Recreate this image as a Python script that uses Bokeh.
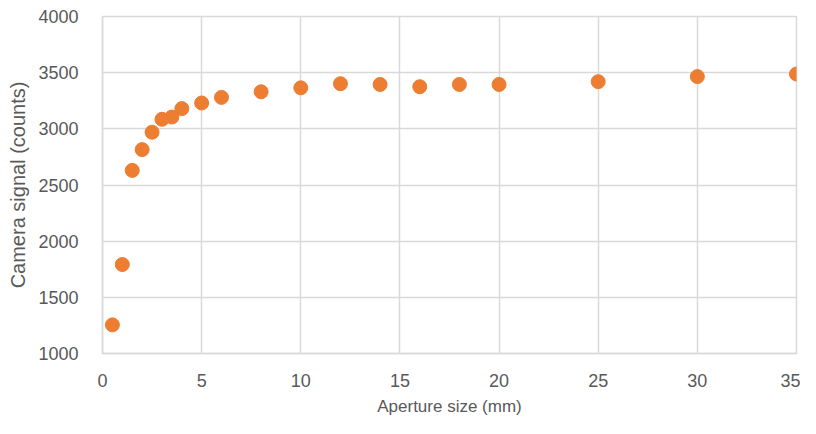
from bokeh.plotting import figure
from bokeh.models import Range1d, FixedTicker
from bokeh.embed import file_html
from bokeh.resources import INLINE

aperture_mm = [0.5, 1, 1.5, 2, 2.5, 3, 3.5, 4, 5, 6, 8, 10, 12, 14, 16, 18, 20, 25, 30, 35]
signal_counts = [1255, 1792, 2630, 2815, 2970, 3085, 3105, 3180, 3230, 3280, 3330, 3365,
                 3402, 3395, 3375, 3395, 3395, 3420, 3465, 3488]
x_ticks = [0, 5, 10, 15, 20, 25, 30, 35]
y_ticks = [1000, 1500, 2000, 2500, 3000, 3500, 4000]

FONT = "Liberation Sans"
GRID = "#d9d9d9"
TEXT = "#595959"

p = figure(width=800, height=418, output_backend="svg", toolbar_location=None,
           x_range=Range1d(0, 35), y_range=Range1d(1000, 4000),
           min_border_left=102, min_border_right=4, min_border_top=16, min_border_bottom=64)

p.scatter(aperture_mm, signal_counts, size=14, color="#ed7d31", line_color="#ed7d31")

p.outline_line_color = GRID
p.outline_line_width = 1.5
for ax in (p.xaxis[0], p.yaxis[0]):
    ax.axis_line_color = GRID
    ax.axis_line_width = 1.5
    ax.major_tick_line_color = None
    ax.minor_tick_line_color = None
    ax.major_label_text_font = FONT
    ax.major_label_text_font_size = "18px"
    ax.major_label_text_color = TEXT
    ax.axis_label_text_font = FONT
    ax.axis_label_text_color = TEXT
    ax.axis_label_text_font_style = "normal"

p.xaxis.axis_label_text_font_size = "17px"
p.yaxis.axis_label_text_font_size = "20px"
p.xaxis.ticker = FixedTicker(ticks=x_ticks)
p.yaxis.ticker = FixedTicker(ticks=y_ticks)
p.xaxis.axis_label = "Aperture size (mm)"
p.yaxis.axis_label = "Camera signal (counts)"
p.xaxis.major_label_standoff = 14
p.yaxis.major_label_standoff = 18
p.xaxis.axis_label_standoff = 7
p.yaxis.axis_label_standoff = 6

for g in (p.xgrid[0], p.ygrid[0]):
    g.grid_line_color = GRID
    g.grid_line_width = 1.5

open("out.html", "w").write(file_html(p, INLINE))
